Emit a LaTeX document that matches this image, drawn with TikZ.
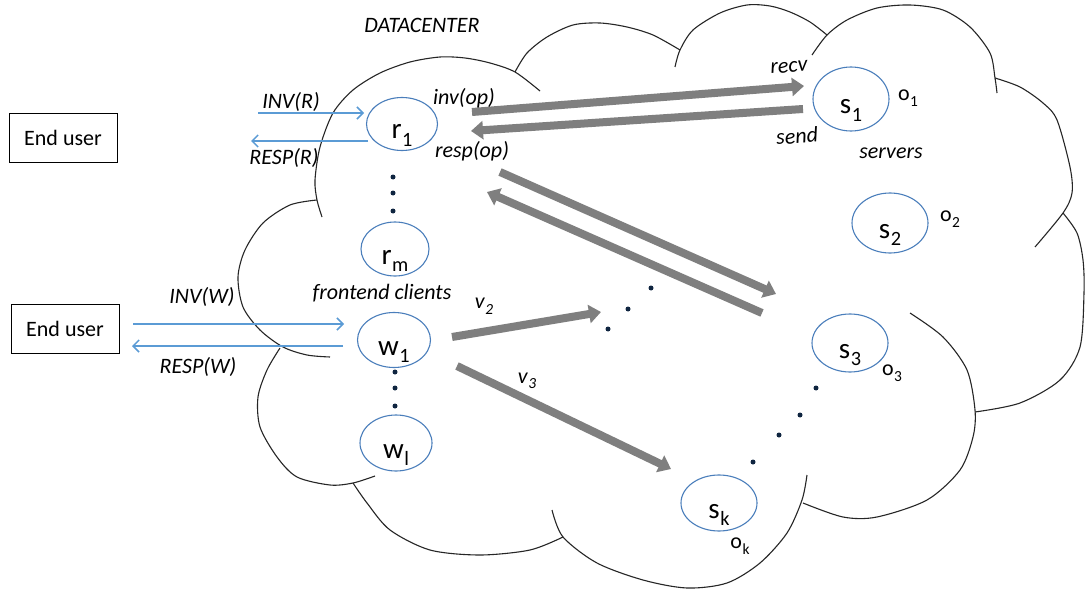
\documentclass[tikz,border=0pt]{standalone}
\usepackage{fontspec}
\setmainfont{Carlito}
\usetikzlibrary{shapes.geometric,arrows.meta}
\definecolor{cloudc}{HTML}{262626}
\definecolor{ellc}{HTML}{4A7EBB}
\definecolor{bluea}{HTML}{5B9BD5}
\definecolor{graya}{HTML}{7F7F7F}
\definecolor{dotc}{HTML}{0F2540}
\newcommand\sbs[2]{#1\kern0.5pt\raisebox{-0.25em}{\scalebox{0.7}{#2}}}
\newcommand\intext[2]{\raisebox{-15pt}[0pt][0pt]{\sbs{#1}{#2}}}
\tikzset{
  cloudline/.style={draw=cloudc,line width=1.1pt},
  proc/.style={ellipse,draw=ellc,line width=1.1pt,inner sep=0pt,
    font=\fontsize{29}{31}\selectfont},
  lab/.style={font=\fontsize{22}{24}\selectfont\itshape,inner sep=0pt},
  obj/.style={font=\fontsize{22}{24}\selectfont,inner sep=0pt},
  userbox/.style={draw=black,line width=0.9pt,minimum width=108pt,minimum height=49pt,
    inner sep=0pt,font=\fontsize{22}{24}\selectfont},
  bluearrow/.style={draw=bluea,line width=1.5pt,-{Straight Barb[length=6pt,width=12pt]}},
  grayarrow/.style={draw=graya,line width=8pt,-{Triangle[length=12pt,width=18pt]}},
  dotn/.style={circle,fill=dotc,inner sep=0pt,minimum size=5pt}
}
\begin{document}
\begin{tikzpicture}[x=1pt,y=-1pt]
\useasboundingbox (0,0) rectangle (1085,594);
\fill[white] (0,0) rectangle (1085,594);

% cloud outline
\draw[cloudline] plot[smooth] coordinates {(322,217) (317,200) (315,180) (320,147) (333,113) (353,90) (380,73) (410,62) (440,57) (465,58) (490,63) (515,72) (540,91)};
\draw[cloudline] plot[smooth] coordinates {(515,72) (527,53) (547,37) (573,25) (600,23) (627,27) (653,35) (680,50)};
\draw[cloudline] plot[smooth] coordinates {(675,67) (680,50) (693,30) (720,13) (747,5) (770,6) (790,12) (810,22) (827,35)};
\draw[cloudline] plot[smooth] coordinates {(812,55) (827,35) (847,20) (877,8) (910,5) (943,10) (970,27) (990,53) (995,78) (997,93)};
\draw[cloudline] plot[smooth] coordinates {(995,78) (1020,87) (1043,103) (1057,120) (1070,167) (1072,193) (1063,213) (1035,247)};
\draw[cloudline] plot[smooth] coordinates {(1063,213) (1077,233) (1083,260) (1084,293) (1080,347) (1060,380) (1020,403) (975,412)};
\draw[cloudline] plot[smooth] coordinates {(910,313) (943,337) (967,370) (975,410) (973,437) (960,470) (927,500) (877,517) (843,517) (803,503)};
\draw[cloudline] plot[smooth] coordinates {(807,475) (802,500) (787,533) (760,563) (727,583) (687,588) (643,580) (597,563) (563,537) (552,510)};
\draw[cloudline] plot[smooth] coordinates {(563,537) (530,550) (480,555) (430,550) (390,530) (367,503) (353,483)};
\draw[cloudline] plot[smooth] coordinates {(375,476) (353,483) (330,485) (297,477) (277,457) (260,427) (258,397) (267,370) (280,348)};
\draw[cloudline] plot[smooth] coordinates {(317,200) (290,205) (263,223) (245,250) (238,277) (243,307) (260,330) (283,347) (307,355) (330,357)};

% title
\node[lab] (dc) at (422,25) {DATACENTER};

% end users
\node[userbox] (eu1) at (63,138) {End user};
\node[userbox] (eu2) at (65,329) {End user};

% frontend clients
\node[proc,minimum width=71pt,minimum height=53pt] (r1) at (402,124) {\intext{r}{1}};
\node[proc,minimum width=68pt,minimum height=54pt] (rm) at (395,249) {\intext{r}{m}};
\node[proc,minimum width=73pt,minimum height=55pt] (w1) at (394,340) {\intext{w}{1}};
\node[proc,minimum width=72pt,minimum height=56pt] (wl) at (396,443) {\intext{w}{l}};
\node[lab] (fc) at (382,293) {frontend clients};

% servers
\node[proc,minimum width=76pt,minimum height=64pt] (s1) at (851,99) {\intext{s}{1}};
\node[proc,minimum width=76pt,minimum height=60pt] (s2) at (890,223) {\intext{s}{2}};
\node[proc,minimum width=76pt,minimum height=58pt] (s3) at (850,343) {\intext{s}{3}};
\node[proc,minimum width=76pt,minimum height=56pt] (sk) at (719,503) {\intext{s}{k}};
\node[obj] (o1) at (908,98) {\sbs{o}{1}};
\node[obj] (o2) at (950,219) {\sbs{o}{2}};
\node[obj] (o3) at (892,373) {\sbs{o}{3}};
\node[obj] (ok) at (740,546) {\sbs{o}{k}};
\node[lab] (srv) at (891,153) {servers};

% dots
\foreach \n/\x/\y in {a1/393/177, a2/393/193, a3/393/211,
  b1/395/372, b2/395/388, b3/395/406,
  c1/608/329, c2/628/309, c3/651/288,
  d1/816/388, d2/800/415, d3/779/435, d4/753/462}
  \node[dotn] (dot\n) at (\x,\y) {};

% blue arrows with end users
\coordinate (invRs) at (258,113);
\coordinate (invRe) at (364,113);
\coordinate (respRs) at (368,141);
\coordinate (respRe) at (251,141);
\coordinate (invWs) at (133,324);
\coordinate (invWe) at (344,324);
\coordinate (respWs) at (343,346);
\coordinate (respWe) at (132,346);
\draw[bluearrow] (invRs) -- (invRe);
\draw[bluearrow] (respRs) -- (respRe);
\draw[bluearrow] (invWs) -- (invWe);
\draw[bluearrow] (respWs) -- (respWe);
\node[lab] (linvR) at (291,102) {INV(R)};
\node[lab] (lrespR) at (284,158) {RESP(R)};
\node[lab] (linvW) at (202,297) {INV(W)};
\node[lab] (lrespW) at (198,367) {RESP(W)};

% gray message arrows
\coordinate (g1s) at (472,112);
\coordinate (g1e) at (804,86);
\coordinate (g2s) at (803,109);
\coordinate (g2e) at (471,131);
\coordinate (g3s) at (500,172);
\coordinate (g3e) at (776,294);
\coordinate (g4s) at (762,313);
\coordinate (g4e) at (487,192);
\coordinate (g5s) at (452,337);
\coordinate (g5e) at (601,312);
\coordinate (g6s) at (457,366);
\coordinate (g6e) at (671,469);
\draw[grayarrow] (g1s) -- (g1e);
\draw[grayarrow] (g2s) -- (g2e);
\draw[grayarrow] (g3s) -- (g3e);
\draw[grayarrow] (g4s) -- (g4e);
\draw[grayarrow] (g5s) -- (g5e);
\draw[grayarrow] (g6s) -- (g6e);

\node[lab] (linv) at (464,98) {inv(op)};
\node[lab] (lresp) at (472,151) {resp(op)};
\node[lab,rotate=4] (lrecv) at (789,67) {recv};
\node[lab,rotate=4] (lsend) at (797,136) {send};
\node[lab] (lv2) at (484,306) {\sbs{v}{2}};
\node[lab] (lv3) at (527,381) {\sbs{v}{3}};
\end{tikzpicture}
\end{document}
